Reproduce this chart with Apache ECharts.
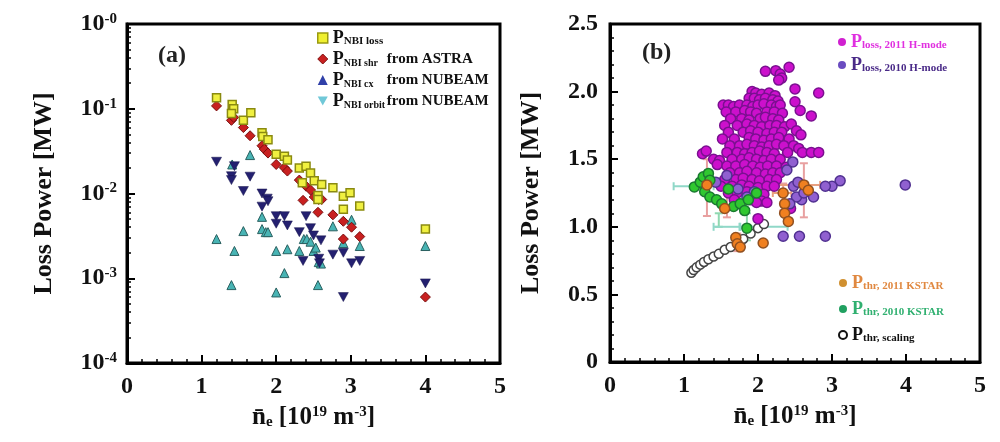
<!DOCTYPE html>
<html><head><meta charset="utf-8">
<script src="https://cdn.jsdelivr.net/npm/echarts@6/dist/echarts.min.js"></script>
<style>html,body{margin:0;padding:0;background:#fff}#c{width:1000px;height:442px}</style>
</head><body><div id="c"></div>
<script>
// ---------- Panel (a) data: [n_e, power MW] ----------
const nbiLoss = [[1.20,0.135],[1.41,0.112],[1.43,0.10],[1.40,0.088],[1.56,0.073],[1.66,0.090],[1.81,0.052],[1.82,0.047],[1.89,0.043],[2.00,0.029],[2.11,0.0276],[2.15,0.0248],[2.31,0.020],[2.40,0.021],[2.46,0.0175],[2.51,0.0141],[2.61,0.0128],[2.35,0.0134],[2.56,0.0095],[2.56,0.0085],[2.76,0.0117],[2.90,0.0093],[2.99,0.0102],[2.90,0.0065],[3.12,0.0071],[4.00,0.0038]];
const nbiShr = [[1.20,0.108],[1.40,0.073],[1.43,0.079],[1.56,0.060],[1.65,0.048],[1.81,0.0366],[1.84,0.0334],[1.89,0.030],[2.00,0.022],[2.11,0.0201],[2.15,0.0184],[2.31,0.0144],[2.40,0.0122],[2.46,0.011],[2.51,0.0091],[2.57,0.0085],[2.61,0.0085],[2.36,0.0083],[2.56,0.0060],[2.76,0.0056],[2.90,0.0047],[3.01,0.0040],[2.90,0.0029],[3.12,0.0031],[4.00,0.0006]];
const nbiCx = [[1.20,0.0237],[1.44,0.021],[1.40,0.016],[1.40,0.0144],[1.65,0.0158],[1.56,0.0107],[1.81,0.010],[1.88,0.0087],[1.89,0.0081],[1.81,0.0070],[2.00,0.0054],[2.11,0.0054],[2.00,0.0044],[2.15,0.0042],[2.40,0.0054],[2.31,0.0035],[2.46,0.0039],[2.50,0.0032],[2.60,0.0028],[2.57,0.0017],[2.58,0.0015],[2.36,0.0016],[2.76,0.0019],[2.90,0.0020],[3.01,0.0015],[3.12,0.0016],[2.90,0.0006],[4.00,0.00087]];
const nbiOrbit = [[1.20,0.0029],[1.41,0.022],[1.65,0.0284],[1.56,0.0036],[1.44,0.0021],[1.81,0.0053],[1.81,0.0038],[1.86,0.0035],[1.89,0.0035],[2.00,0.0021],[2.15,0.0022],[2.11,0.00115],[2.00,0.00068],[1.40,0.00083],[2.31,0.0021],[2.37,0.0029],[2.41,0.0029],[2.46,0.0027],[2.50,0.0021],[2.53,0.0023],[2.57,0.00155],[2.60,0.00149],[2.56,0.00083],[2.76,0.0041],[2.90,0.0026],[3.01,0.0049],[3.12,0.0024],[4.00,0.0024]];

// ---------- Panel (b) data ----------
const loss2011 = [
[2.10,2.15],[2.24,2.155],[2.30,2.13],[2.32,2.10],[2.42,2.18],[2.28,2.085],[2.50,2.02],[2.82,1.99],[2.50,1.925],[2.57,1.86],[2.72,1.82],
[1.92,2.00],[1.97,1.99],[2.05,1.98],[2.15,1.99],[2.23,1.97],
[1.88,1.95],[1.95,1.95],[2.02,1.94],[2.10,1.95],[2.20,1.94],[2.27,1.93],
[1.53,1.90],[1.60,1.90],[1.67,1.89],[1.75,1.90],[1.85,1.90],[1.93,1.89],[2.00,1.90],[2.08,1.91],[2.18,1.90],[2.25,1.89],[2.30,1.90],
[1.57,1.85],[1.70,1.85],[1.82,1.86],[1.90,1.85],[1.98,1.84],[2.12,1.85],[2.22,1.85],[2.33,1.84],
[1.63,1.80],[1.78,1.80],[1.88,1.79],[2.03,1.80],[2.10,1.81],[2.20,1.80],[2.28,1.79],
[1.55,1.75],[1.72,1.75],[1.85,1.76],[1.95,1.75],[2.05,1.74],[2.16,1.75],[2.25,1.75],[2.36,1.74],[2.45,1.76],
[1.60,1.70],[1.80,1.70],[1.90,1.71],[2.00,1.70],[2.12,1.69],[2.22,1.70],[2.32,1.70],[2.52,1.71],[2.58,1.68],
[1.52,1.65],[1.68,1.65],[1.88,1.66],[1.97,1.65],[2.08,1.64],[2.18,1.65],[2.28,1.66],[2.42,1.65],
[1.62,1.60],[1.75,1.60],[1.85,1.61],[1.95,1.60],[2.05,1.59],[2.15,1.60],[2.25,1.61],[2.35,1.60],[2.48,1.60],[2.55,1.58],
[1.25,1.54],[1.30,1.56],[1.58,1.55],[1.72,1.55],[1.82,1.54],[1.92,1.55],[2.02,1.56],[2.12,1.55],[2.22,1.54],[2.40,1.55],[2.60,1.55],[2.72,1.55],[2.82,1.55],
[1.40,1.50],[1.48,1.49],[1.65,1.50],[1.78,1.50],[1.88,1.51],[1.98,1.50],[2.08,1.49],[2.18,1.50],[2.30,1.50],
[1.45,1.46],[1.58,1.45],[1.70,1.45],[1.82,1.46],[1.93,1.45],[2.03,1.44],[2.13,1.45],[2.25,1.45],[2.38,1.44],
[1.62,1.40],[1.75,1.40],[1.85,1.41],[1.98,1.40],[2.10,1.39],[2.20,1.40],[2.30,1.40],
[1.55,1.35],[1.70,1.35],[1.80,1.36],[1.92,1.35],[2.02,1.34],[2.15,1.35],[2.25,1.35],
[1.50,1.30],[1.65,1.30],[1.78,1.31],[1.88,1.30],[2.00,1.29],[2.12,1.30],[2.22,1.30],
[1.60,1.25],[1.72,1.25],[1.85,1.26],[1.96,1.25],[2.08,1.24],
[1.68,1.20],[1.90,1.20],[2.05,1.19],[2.12,1.18],[1.98,1.18],[2.44,1.135],[2.00,1.06]
];
const loss2010 = [[3.11,1.34],[3.00,1.30],[2.91,1.30],[3.99,1.31],[2.34,0.93],[2.56,0.93],[2.91,0.93],[2.75,1.22],[2.59,1.20],[2.52,1.22],[2.47,1.48],[2.39,1.42],[1.58,1.38],[1.43,1.33],[1.95,1.26],[1.73,1.28],[2.48,1.30],[2.54,1.33],[2.43,1.17],[1.85,1.22],[2.62,1.25]];
const thr2011 = [[1.31,1.31],[1.55,1.135],[1.70,0.92],[1.72,0.875],[1.76,0.85],[2.07,0.88],[2.34,1.25],[2.36,1.17],[2.36,1.10],[2.41,1.04],[2.62,1.31],[2.68,1.27]];
const thr2010 = [[1.14,1.295],[1.22,1.33],[1.26,1.37],[1.33,1.395],[1.35,1.345],[1.28,1.26],[1.35,1.22],[1.44,1.20],[1.51,1.17],[1.60,1.28],[1.67,1.15],[1.76,1.17],[1.82,1.12],[1.87,1.20],[1.98,1.25],[1.85,0.99]];
const thrScaling = [[1.10,0.66],[1.13,0.68],[1.17,0.70],[1.22,0.72],[1.27,0.74],[1.33,0.76],[1.40,0.78],[1.47,0.80],[1.55,0.83],[1.63,0.85],[1.72,0.88],[1.80,0.91],[1.90,0.95],[2.00,0.99],[2.08,1.02]];
// error bars: vertical [x, low, high], horizontal [y, left, right]
const err2011V = [[1.31,1.08,1.50],[1.58,1.07,1.30],[2.34,1.12,1.32],[2.62,1.07,1.47],[1.72,0.82,0.95]];
const err2011H = [[1.31,2.25,2.84],[1.25,2.20,2.45]];
const err2010V = [[1.47,1.00,1.10],[1.85,0.90,1.10]];
const err2010H = [[1.30,0.86,1.40],[1.00,1.40,1.76],[1.00,1.75,2.40]];

const xTicks = [0,1,2,3,4,5];
const yTicksB = [0,0.5,1.0,1.5,2.0,2.5];

const SERIF = '"Liberation Serif","DejaVu Serif",serif';
const downTri = 'path://M0,0 L10,0 L5,9 Z';

function xAxisCfg(grid){
  return {type:'value', gridIndex:grid, min:xTicks[0], max:xTicks[xTicks.length-1], interval:1,
    axisLine:{show:true,onZero:false,lineStyle:{color:'#000',width:3}},
    axisTick:{inside:true,length:8,lineStyle:{color:'#000',width:2}},
    minorTick:{show:true,splitNumber:5,length:4,lineStyle:{color:'#000',width:1.5}},
    splitLine:{show:false},
    axisLabel:{color:'#111',fontFamily:SERIF,fontWeight:'bold',fontSize:24,margin:12},
    name:'{n|n\u0304}{e|e}{t| [10}{sup|19}{t| m}{sup|-3}{t|]}', nameLocation:'middle', nameGap:42,
    nameTextStyle:{rich:{
      n:{fontFamily:SERIF,fontWeight:'bold',fontSize:25,color:'#111'},
      e:{fontFamily:SERIF,fontWeight:'bold',fontSize:15,color:'#111',verticalAlign:'bottom',padding:[8,0,0,0]},
      t:{fontFamily:SERIF,fontWeight:'bold',fontSize:25,color:'#111'},
      sup:{fontFamily:SERIF,fontWeight:'bold',fontSize:15,color:'#111',verticalAlign:'top',padding:[0,0,8,0]}
    }}
  };
}
function yName(){
  return {name:'Loss Power [MW]', nameLocation:'middle',
    nameTextStyle:{fontFamily:SERIF,fontWeight:'bold',fontSize:26,color:'#111'}};
}

function legendRich(col){
  return {
    p:{fontFamily:SERIF,fontWeight:'bold',fontSize:18,color:col},
    s:{fontFamily:SERIF,fontWeight:'bold',fontSize:11,color:col,verticalAlign:'bottom',padding:[7,0,0,0]},
    sw:{fontFamily:SERIF,fontWeight:'bold',fontSize:10,color:col,verticalAlign:'bottom',padding:[7,0,0,0],width:43},
    f:{fontFamily:SERIF,fontWeight:'bold',fontSize:15,color:col}
  };
}
const legAText = {
  'NBI loss':'{p|P}{s|NBI loss}',
  'NBI shr':'{p|P}{sw|NBI shr}{f|from ASTRA}',
  'NBI cx':'{p|P}{sw|NBI cx}{f|from NUBEAM}',
  'NBI orbit':'{p|P}{sw|NBI orbit}{f|from NUBEAM}'
};
const legBText = {
  'loss2011':['loss, 2011 H-mode','#e030e0'],
  'loss2010':['loss, 2010 H-mode','#4a2a88'],
  'thr2011':['thr, 2011 KSTAR','#e08840'],
  'thr2010':['thr, 2010 KSTAR','#30b070'],
  'scaling':['thr, scaling','#111']
};

function errRender(vertical, color){
  return function(params, api){
    let p1, p2, cap;
    if (vertical){
      p1 = api.coord([api.value(0), api.value(1)]);
      p2 = api.coord([api.value(0), api.value(2)]);
      cap = [[p1[0]-4,p1[1],p1[0]+4,p1[1]],[p2[0]-4,p2[1],p2[0]+4,p2[1]]];
    } else {
      p1 = api.coord([api.value(1), api.value(0)]);
      p2 = api.coord([api.value(2), api.value(0)]);
      cap = [[p1[0],p1[1]-4,p1[0],p1[1]+4],[p2[0],p2[1]-4,p2[0],p2[1]+4]];
    }
    const st = {stroke:color, lineWidth:2};
    return {type:'group', children:[
      {type:'line', shape:{x1:p1[0],y1:p1[1],x2:p2[0],y2:p2[1]}, style:st},
      {type:'line', shape:{x1:cap[0][0],y1:cap[0][1],x2:cap[0][2],y2:cap[0][3]}, style:st},
      {type:'line', shape:{x1:cap[1][0],y1:cap[1][1],x2:cap[1][2],y2:cap[1][3]}, style:st}
    ]};
  };
}

const chart = echarts.init(document.getElementById('c'), null, {renderer:'canvas'});
chart.setOption({
  animation:false,
  backgroundColor:'#fff',
  grid:[
    {left:127, top:24, width:373, height:339, show:true, borderColor:'#000', borderWidth:3, backgroundColor:'#fff'},
    {left:610, top:24, width:370, height:338, show:true, borderColor:'#000', borderWidth:3, backgroundColor:'#fff'}
  ],
  xAxis:[xAxisCfg(0), xAxisCfg(1)],
  yAxis:[
    Object.assign({type:'log', gridIndex:0, logBase:10, min:1e-4, max:1, splitNumber:4,
      axisLine:{show:true,onZero:false,lineStyle:{color:'#000',width:3}},
      axisTick:{inside:true,length:8,lineStyle:{color:'#000',width:2}},
      minorTick:{show:true,splitNumber:9,length:4,lineStyle:{color:'#000',width:1.5}},
      splitLine:{show:false},
      axisLabel:{margin:10, formatter:function(v){const e=Math.round(Math.log10(v));return '{b|10}{s|'+(e===0?'-0':e)+'}';},
        rich:{b:{fontFamily:SERIF,fontWeight:'bold',fontSize:24,color:'#111'},
              s:{fontFamily:SERIF,fontWeight:'bold',fontSize:15,color:'#111',verticalAlign:'top',padding:[0,0,10,0]}}},
      nameGap:70}, yName()),
    Object.assign({type:'value', gridIndex:1, min:yTicksB[0], max:yTicksB[yTicksB.length-1], interval:0.5,
      axisLine:{show:true,onZero:false,lineStyle:{color:'#000',width:3}},
      axisTick:{inside:true,length:8,lineStyle:{color:'#000',width:2}},
      minorTick:{show:true,splitNumber:5,length:4,lineStyle:{color:'#000',width:1.5}},
      splitLine:{show:false},
      axisLabel:{color:'#111',fontFamily:SERIF,fontWeight:'bold',fontSize:24,margin:12,
        formatter:function(v){return v===0?'0':v.toFixed(1);}},
      nameGap:66}, yName())
  ],
  legend:[
    {left:317, top:29, orient:'vertical', itemGap:3, itemWidth:10, itemHeight:10, padding:0,
     data:[
      {name:'NBI loss', icon:'rect', itemStyle:{color:'#f0f030',borderColor:'#9a9a10',borderWidth:1.5}},
      {name:'NBI shr', icon:'diamond', itemStyle:{color:'#c82020',borderColor:'#801010',borderWidth:1}},
      {name:'NBI cx', icon:'triangle', itemStyle:{color:'#3040a8',borderWidth:0}},
      {name:'NBI orbit', icon:downTri, itemStyle:{color:'#70c8d8',borderWidth:0}}
     ],
     formatter:function(n){return legAText[n];},
     textStyle:{rich:legendRich('#111'), padding:[0,0,0,0]}},
    {left:838, top:33, orient:'vertical', itemGap:5, itemWidth:8, itemHeight:8, padding:0,
     data:[
      {name:'loss2011', icon:'circle', itemStyle:{color:'#d020d0',borderWidth:0}, textStyle:{rich:legendRich('#e030e0')}},
      {name:'loss2010', icon:'circle', itemStyle:{color:'#6a4cc0',borderWidth:0}, textStyle:{rich:legendRich('#4a2a88')}}
     ],
     formatter:function(n){return '{p|P}{s|'+legBText[n][0]+'}';}},
    {left:838, top:274, orient:'vertical', itemGap:8, itemWidth:8, itemHeight:8, padding:0,
     data:[
      {name:'thr2011', icon:'circle', itemStyle:{color:'#d09030',borderWidth:0}, textStyle:{rich:legendRich('#e08840')}},
      {name:'thr2010', icon:'circle', itemStyle:{color:'#20a060',borderWidth:0}, textStyle:{rich:legendRich('#30b070')}},
      {name:'scaling', icon:'circle', itemStyle:{color:'#fff',borderColor:'#111',borderWidth:2}, textStyle:{rich:legendRich('#111')}}
     ],
     formatter:function(n){return '{p|P}{s|'+legBText[n][0]+'}';}}
  ],
  graphic:[
    {type:'text', left:158, top:44, style:{text:'(a)', font:'bold 24px '+SERIF, fill:'#222'}},
    {type:'text', left:642, top:41, style:{text:'(b)', font:'bold 24px '+SERIF, fill:'#222'}}
  ],
  series:[
    {name:'NBI orbit', type:'scatter', xAxisIndex:0, yAxisIndex:0, data:nbiOrbit, symbol:'triangle', symbolSize:9,
     itemStyle:{color:'#48b4b4',borderColor:'#2a6060',borderWidth:1,opacity:1}},
    {name:'NBI cx', type:'scatter', xAxisIndex:0, yAxisIndex:0, data:nbiCx, symbol:downTri, symbolSize:[10,9],
     itemStyle:{color:'#242070',borderColor:'#15124a',borderWidth:0.5,opacity:1}},
    {name:'NBI shr', type:'scatter', xAxisIndex:0, yAxisIndex:0, data:nbiShr, symbol:'diamond', symbolSize:10,
     itemStyle:{color:'#c82020',borderColor:'#7a1010',borderWidth:1,opacity:1}},
    {name:'NBI loss', type:'scatter', xAxisIndex:0, yAxisIndex:0, data:nbiLoss, symbol:'rect', symbolSize:8,
     itemStyle:{color:'#f0f040',borderColor:'#8a8a10',borderWidth:1.5,opacity:1}},

    {name:'err2011V', type:'custom', xAxisIndex:1, yAxisIndex:1, data:err2011V, renderItem:errRender(true,'#e8a0a0'), z:1},
    {name:'err2011H', type:'custom', xAxisIndex:1, yAxisIndex:1, data:err2011H, renderItem:errRender(false,'#e8a080'), z:1},
    {name:'err2010V', type:'custom', xAxisIndex:1, yAxisIndex:1, data:err2010V, renderItem:errRender(true,'#90d8b0'), z:1},
    {name:'err2010H', type:'custom', xAxisIndex:1, yAxisIndex:1, data:err2010H, renderItem:errRender(false,'#90d8c8'), z:1},
    {name:'scaling', type:'scatter', xAxisIndex:1, yAxisIndex:1, data:thrScaling, symbol:'circle', symbolSize:9,
     itemStyle:{color:'#fff',borderColor:'#444',borderWidth:1.5,opacity:1}, z:2},
    {name:'loss2011', type:'scatter', xAxisIndex:1, yAxisIndex:1, data:loss2011, symbol:'circle', symbolSize:10,
     itemStyle:{color:'#cc10cc',borderColor:'#7a1090',borderWidth:1.5,opacity:1}, z:3},
    {name:'loss2010', type:'scatter', xAxisIndex:1, yAxisIndex:1, data:loss2010, symbol:'circle', symbolSize:10,
     itemStyle:{color:'#9060d0',borderColor:'#503090',borderWidth:1.5,opacity:1}, z:3},
    {name:'thr2010', type:'scatter', xAxisIndex:1, yAxisIndex:1, data:thr2010, symbol:'circle', symbolSize:10,
     itemStyle:{color:'#30c830',borderColor:'#1a7a30',borderWidth:1.5,opacity:1}, z:4},
    {name:'thr2011', type:'scatter', xAxisIndex:1, yAxisIndex:1, data:thr2011, symbol:'circle', symbolSize:10,
     itemStyle:{color:'#f08020',borderColor:'#905020',borderWidth:1.5,opacity:1}, z:4}
  ]
});
</script></body></html>
